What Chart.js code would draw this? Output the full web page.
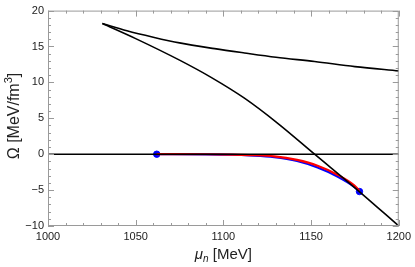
<!DOCTYPE html>
<html>
<head>
<meta charset="utf-8">
<script src="https://cdn.jsdelivr.net/npm/chart.js@4.4.1/dist/chart.umd.min.js"></script>
<style>
  html, body { margin: 0; padding: 0; background: #fff; }
  #wrap { width: 415px; height: 267px; position: relative; }
</style>
</head>
<body>
<div id="wrap"><canvas id="chart"></canvas></div>
<script>
// upper black branch
const upperMu = [1031, 1045, 1060, 1075, 1095, 1112, 1130, 1152, 1175, 1200];
const upperOmega = [18.2, 17.2, 16.3, 15.5, 14.7, 14.1, 13.5, 12.9, 12.2, 11.6];
// lower black branch
const lowerMu = [1031, 1050, 1075, 1093, 1112, 1131, 1152, 1177.5, 1200];
const lowerOmega = [18.2, 16.1, 13.1, 10.7, 7.8, 4.3, 0, -5.2, -10];
// zero line
const zeroMu = [1000, 1200];
const zeroOmega = [0, 0];
// blue and red curves
const blueMu = [1062, 1090, 1105, 1115, 1129, 1142, 1153.7, 1165, 1174.4, 1177.6];
const blueOmega = [0, -0.02, -0.08, -0.18, -0.42, -0.95, -1.85, -3.1, -4.5, -5.2];
const redMu = [1062, 1090, 1105, 1115, 1129, 1142, 1153.7, 1165, 1174.4, 1177.6];
const redOmega = [0, -0.01, -0.05, -0.12, -0.3, -0.8, -1.6, -2.85, -4.3, -5.1];
// end points
const dotMu = [1062, 1177.6];
const dotOmega = [0, -5.2];

const xTicks = [1000, 1050, 1100, 1150, 1200];
const yTicks = [-10, -5, 0, 5, 10, 15, 20];

function pts(xs, ys) {
    return xs.map((x, i) => ({x: x, y: ys[i]}));
}

function line(xs, ys, color, width) {
    return {
        type: 'line',
        data: pts(xs, ys),
        borderColor: color,
        borderWidth: width,
        pointRadius: 0,
        fill: false,
        cubicInterpolationMode: 'monotone'
    };
}

// frame, inward ticks and axis titles
const framePlugin = {
    id: 'frame',
    afterDatasetsDraw(chart) {
        const ctx = chart.ctx;
        const a = chart.chartArea;
        const xs = chart.scales.x;
        const ys = chart.scales.y;
        ctx.save();
        ctx.strokeStyle = '#9a9a9a';
        ctx.lineWidth = 1;
        ctx.strokeRect(a.left + 0.5, a.top + 0.5, a.right - a.left - 1, a.bottom - a.top - 1);
        ctx.beginPath();
        for (let v = 1000; v <= 1200; v += 10) {
            const len = v % 50 === 0 ? 6 : 3;
            const p = Math.round(xs.getPixelForValue(v)) + 0.5;
            ctx.moveTo(p, a.bottom); ctx.lineTo(p, a.bottom - len);
            ctx.moveTo(p, a.top); ctx.lineTo(p, a.top + len);
        }
        for (let v = -10; v <= 20; v += 1) {
            const len = v % 5 === 0 ? 6 : 3;
            const p = Math.round(ys.getPixelForValue(v)) + 0.5;
            ctx.moveTo(a.left, p); ctx.lineTo(a.left + len, p);
            ctx.moveTo(a.right, p); ctx.lineTo(a.right - len, p);
        }
        ctx.stroke();

        ctx.fillStyle = '#222';
        // x title: mu_n [MeV]
        const cx = (a.left + a.right) / 2;
        const ty = 259;
        ctx.textBaseline = 'alphabetic';
        ctx.font = 'italic 15px "Liberation Sans", Arial, sans-serif';
        const muW = ctx.measureText('\u03bc').width;
        ctx.font = 'italic 10px "Liberation Sans", Arial, sans-serif';
        const nW = ctx.measureText('n').width;
        ctx.font = '15px "Liberation Sans", Arial, sans-serif';
        const restW = ctx.measureText(' [MeV]').width;
        let x0 = cx - (muW + nW + restW) / 2;
        ctx.textAlign = 'left';
        ctx.font = 'italic 15px "Liberation Sans", Arial, sans-serif';
        ctx.fillText('\u03bc', x0, ty);
        ctx.font = 'italic 10px "Liberation Sans", Arial, sans-serif';
        ctx.fillText('n', x0 + muW, ty + 3);
        ctx.font = '15px "Liberation Sans", Arial, sans-serif';
        ctx.fillText(' [MeV]', x0 + muW + nW, ty);

        // y title: Omega [MeV/fm^3]
        ctx.translate(19, 116);
        ctx.rotate(-Math.PI / 2);
        ctx.font = '16px "Liberation Sans", Arial, sans-serif';
        const mainW = ctx.measureText('\u03a9 [MeV/fm').width;
        ctx.font = '11px "Liberation Sans", Arial, sans-serif';
        const supW = ctx.measureText('3').width;
        ctx.font = '16px "Liberation Sans", Arial, sans-serif';
        const brW = ctx.measureText(']').width;
        let y0 = -(mainW + supW + brW) / 2;
        ctx.textAlign = 'left';
        ctx.fillText('\u03a9 [MeV/fm', y0, 0);
        ctx.font = '11px "Liberation Sans", Arial, sans-serif';
        ctx.fillText('3', y0 + mainW, -7);
        ctx.font = '16px "Liberation Sans", Arial, sans-serif';
        ctx.fillText(']', y0 + mainW + supW, 0);
        ctx.restore();
    }
};

new Chart(document.getElementById('chart'), {
    type: 'line',
    data: {
        datasets: [
            line(zeroMu, zeroOmega, '#000', 1.6),
            line(upperMu, upperOmega, '#000', 1.6),
            line(lowerMu, lowerOmega, '#000', 1.6),
            line(redMu, redOmega, '#ff0000', 2.2),
            line(blueMu, blueOmega, '#0000ff', 2.2),
            {
                type: 'scatter',
                data: pts(dotMu, dotOmega),
                backgroundColor: '#0000ff',
                borderColor: '#0000ff',
                pointRadius: 3.2
            }
        ]
    },
    options: {
        responsive: true,
        maintainAspectRatio: false,
        animation: false,
        layout: { padding: { top: 6, right: 13, left: 0, bottom: 0 } },
        plugins: { legend: { display: false }, tooltip: { enabled: false } },
        scales: {
            x: {
                type: 'linear',
                min: 1000,
                max: 1200,
                afterBuildTicks: s => { s.ticks = xTicks.map(v => ({value: v})); },
                afterFit: s => { s.height = 41; },
                grid: { display: false, drawTicks: false },
                border: { display: false },
                ticks: {
                    padding: 4,
                    color: '#222',
                    maxRotation: 0,
                    font: { family: '"Liberation Sans", Arial, sans-serif', size: 11 },
                    callback: v => String(v)
                }
            },
            y: {
                min: -10,
                max: 20,
                afterBuildTicks: s => { s.ticks = yTicks.map(v => ({value: v})); },
                afterFit: s => { s.width = 48; },
                grid: { display: false, drawTicks: false },
                border: { display: false },
                ticks: {
                    padding: 4,
                    color: '#222',
                    font: { family: '"Liberation Sans", Arial, sans-serif', size: 11 },
                    callback: v => (v < 0 ? '\u2212' + Math.abs(v) : String(v))
                }
            }
        }
    },
    plugins: [framePlugin]
});
</script>
</body>
</html>
